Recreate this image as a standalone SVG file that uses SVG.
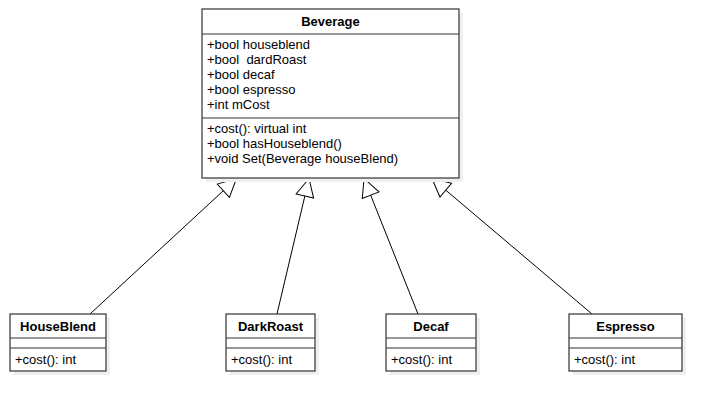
<svg xmlns="http://www.w3.org/2000/svg" width="722" height="411" viewBox="0 0 722 411">
<defs>
<style>
.box{fill:#fff;stroke:#333;stroke-width:1.2}
.sh{fill:#efefef}
.ln{stroke:#333;stroke-width:1.2}
.t{font-family:"Liberation Sans",Arial,sans-serif;font-size:13px;fill:#000}
.b{font-weight:bold;text-anchor:middle}
.c{stroke:#000;stroke-width:1;fill:none}
</style>
<marker id="tri" markerUnits="userSpaceOnUse" markerWidth="22" markerHeight="22" viewBox="0 0 22 22" refX="20" refY="11" orient="auto">
<path d="M2,2 L20,11 L2,20 Z" fill="#fff" stroke="#000" stroke-width="1"/>
</marker>
</defs>
<rect width="722" height="411" fill="#fff"/>
<g id="connectors">
<line class="c" x1="90" y1="314" x2="236.5" y2="178.5" marker-end="url(#tri)"/>
<line class="c" x1="277" y1="314" x2="309" y2="178.5" marker-end="url(#tri)"/>
<line class="c" x1="418" y1="314" x2="364" y2="178.5" marker-end="url(#tri)"/>
<line class="c" x1="592" y1="314" x2="432" y2="178.5" marker-end="url(#tri)"/>
</g>
<g id="beverage">
<rect class="sh" x="206" y="13" width="257" height="169"/>
<rect class="box" x="202" y="9" width="257" height="169"/>
<line class="ln" x1="202" y1="34" x2="459" y2="34"/>
<line class="ln" x1="202" y1="118" x2="459" y2="118"/>
<text class="t b" x="330.5" y="26">Beverage</text>
<text class="t" x="207" y="49">+bool houseblend</text>
<text class="t" x="207" y="64" xml:space="preserve">+bool  dardRoast</text>
<text class="t" x="207" y="79">+bool decaf</text>
<text class="t" x="207" y="94">+bool espresso</text>
<text class="t" x="207" y="109">+int mCost</text>
<text class="t" x="207" y="133">+cost(): virtual int</text>
<text class="t" x="207" y="148">+bool hasHouseblend()</text>
<text class="t" x="207" y="163">+void Set(Beverage houseBlend)</text>
</g>
<g id="houseblend">
<rect class="sh" x="14" y="318" width="96" height="57"/>
<rect class="box" x="10" y="314" width="96" height="57"/>
<line class="ln" x1="10" y1="338" x2="106" y2="338"/>
<line class="ln" x1="10" y1="348" x2="106" y2="348"/>
<text class="t b" x="58" y="331">HouseBlend</text>
<text class="t" x="15" y="364">+cost(): int</text>
</g>
<g id="darkroast">
<rect class="sh" x="230" y="318" width="89" height="57"/>
<rect class="box" x="226" y="314" width="89" height="57"/>
<line class="ln" x1="226" y1="338" x2="315" y2="338"/>
<line class="ln" x1="226" y1="348" x2="315" y2="348"/>
<text class="t b" x="270.5" y="331">DarkRoast</text>
<text class="t" x="231" y="364">+cost(): int</text>
</g>
<g id="decaf">
<rect class="sh" x="390" y="318" width="90" height="57"/>
<rect class="box" x="386" y="314" width="90" height="57"/>
<line class="ln" x1="386" y1="338" x2="476" y2="338"/>
<line class="ln" x1="386" y1="348" x2="476" y2="348"/>
<text class="t b" x="431" y="331">Decaf</text>
<text class="t" x="391" y="364">+cost(): int</text>
</g>
<g id="espresso">
<rect class="sh" x="573" y="318" width="113" height="57"/>
<rect class="box" x="569" y="314" width="113" height="57"/>
<line class="ln" x1="569" y1="338" x2="682" y2="338"/>
<line class="ln" x1="569" y1="348" x2="682" y2="348"/>
<text class="t b" x="625.5" y="331">Espresso</text>
<text class="t" x="574" y="364">+cost(): int</text>
</g>
</svg>
